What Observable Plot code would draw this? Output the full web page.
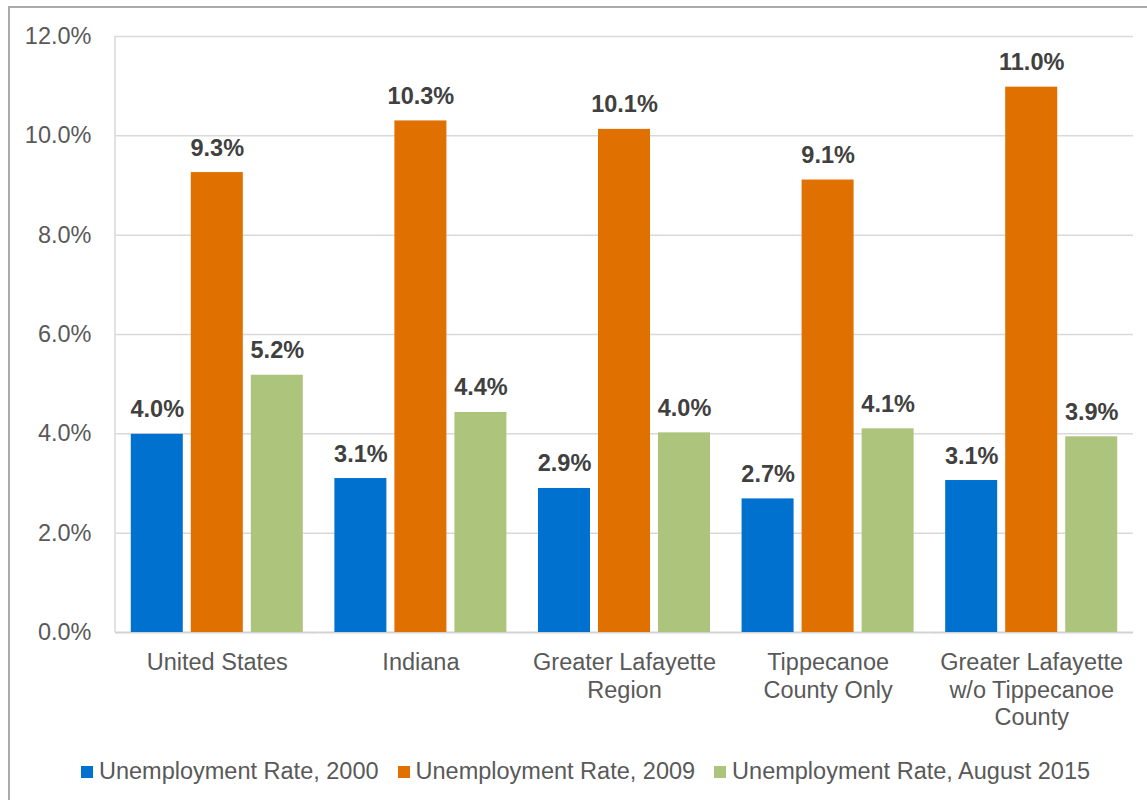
<!DOCTYPE html>
<html>
<head>
<meta charset="utf-8">
<script src="https://cdn.jsdelivr.net/npm/d3@7"></script>
<script src="https://cdn.jsdelivr.net/npm/@observablehq/plot@0.6"></script>
<style>
  html, body { margin: 0; padding: 0; background: #fff; overflow: hidden; }
  #wrap { position: relative; width: 1147px; height: 800px; overflow: hidden; font-family: "Liberation Sans", Arial, sans-serif; }
  #border { position: absolute; left: 8px; top: 6px; width: 1160px; height: 820px; border: 2px solid #ababab; box-sizing: border-box; }
  #chart { position: absolute; left: 0; top: 0; }
  #legend { position: absolute; left: 81px; top: 758px; display: flex; align-items: center; font-size: 23.5px; color: #595959; white-space: nowrap; }
  .item { display: flex; align-items: center; margin-right: 19px; }
  .sw { width: 12px; height: 12px; margin-right: 6px; }
</style>
</head>
<body>
<div id="wrap">
  <div id="border"></div>
  <div id="chart"></div>
  <div id="legend"></div>
</div>
<script>
// ---- data ----
const regions = ["United States", "Indiana", "Greater Lafayette Region", "Tippecanoe County Only", "Greater Lafayette w/o Tippecanoe County"];
const regionLabels = ["United States", "Indiana", "Greater Lafayette\nRegion", "Tippecanoe\nCounty Only", "Greater Lafayette\nw/o Tippecanoe\nCounty"];
const seriesNames = ["Unemployment Rate, 2000", "Unemployment Rate, 2009", "Unemployment Rate, August 2015"];
const rate2000 = [3.99, 3.10, 2.90, 2.69, 3.06];
const rate2009 = [9.26, 10.30, 10.13, 9.11, 10.98];
const rate2015 = [5.18, 4.43, 4.02, 4.10, 3.94];
const yTicks = [0, 2, 4, 6, 8, 10, 12];
const colors = ["#0071ce", "#e07000", "#acc47c"];

const seriesValues = [rate2000, rate2009, rate2015];
const rows = [];
regions.forEach((r, i) => {
  seriesNames.forEach((s, j) => {
    rows.push({region: r, label: regionLabels[i], series: s, value: seriesValues[j][i]});
  });
});

const fmt = d => d.toFixed(1) + "%";

const chart = Plot.plot({
  width: 1147,
  height: 745,
  marginLeft: 115,
  marginRight: 14,
  marginTop: 36,
  marginBottom: 113,
  style: {fontSize: "23.5px", fontFamily: "'Liberation Sans', Arial, sans-serif", color: "#595959", background: "transparent", overflow: "visible"},
  facet: {data: rows, x: "region"},
  fx: {domain: regions, padding: 0, round: false, axis: null, label: null},
  x: {domain: seriesNames, paddingInner: 0.1333, paddingOuter: 0.263, round: false, axis: null, label: null},
  y: {domain: [0, 12], ticks: yTicks, tickFormat: fmt, tickSize: 0, tickPadding: 24, label: null},
  color: {domain: seriesNames, range: colors},
  marks: [
    Plot.ruleY(yTicks.slice(1), {stroke: "#d9d9d9", strokeWidth: 1.5}),
    Plot.ruleY([0], {stroke: "#d2d2d2", strokeWidth: 2}),
    Plot.barY(rows, {x: "series", y: "value", fill: "series"}),
    Plot.text(rows, {x: "series", y: "value", text: d => fmt(d.value), lineAnchor: "bottom", dy: -17, fontWeight: "bold", fill: "#404040", fontSize: 23.5}),
    Plot.text(rows, {filter: d => d.series === seriesNames[1], text: "label", frameAnchor: "bottom", lineAnchor: "top", dy: 18, lineHeight: 1.17, fill: "#595959", fontSize: 23.5})
  ]
});

// left axis line, derived from the plot's own scales
const fxS = chart.scale("fx"), yS = chart.scale("y");
d3.select(chart).append("line")
  .attr("x1", fxS.range[0]).attr("x2", fxS.range[0])
  .attr("y1", yS.range[0]).attr("y2", yS.range[1])
  .attr("stroke", "#d9d9d9").attr("stroke-width", 1.5);

document.getElementById("chart").appendChild(chart);

// legend
const legend = d3.select("#legend");
seriesNames.forEach((s, i) => {
  const it = legend.append("div").attr("class", "item");
  it.append("div").attr("class", "sw").style("background", colors[i]);
  it.append("span").text(s);
});
</script>
</body>
</html>
